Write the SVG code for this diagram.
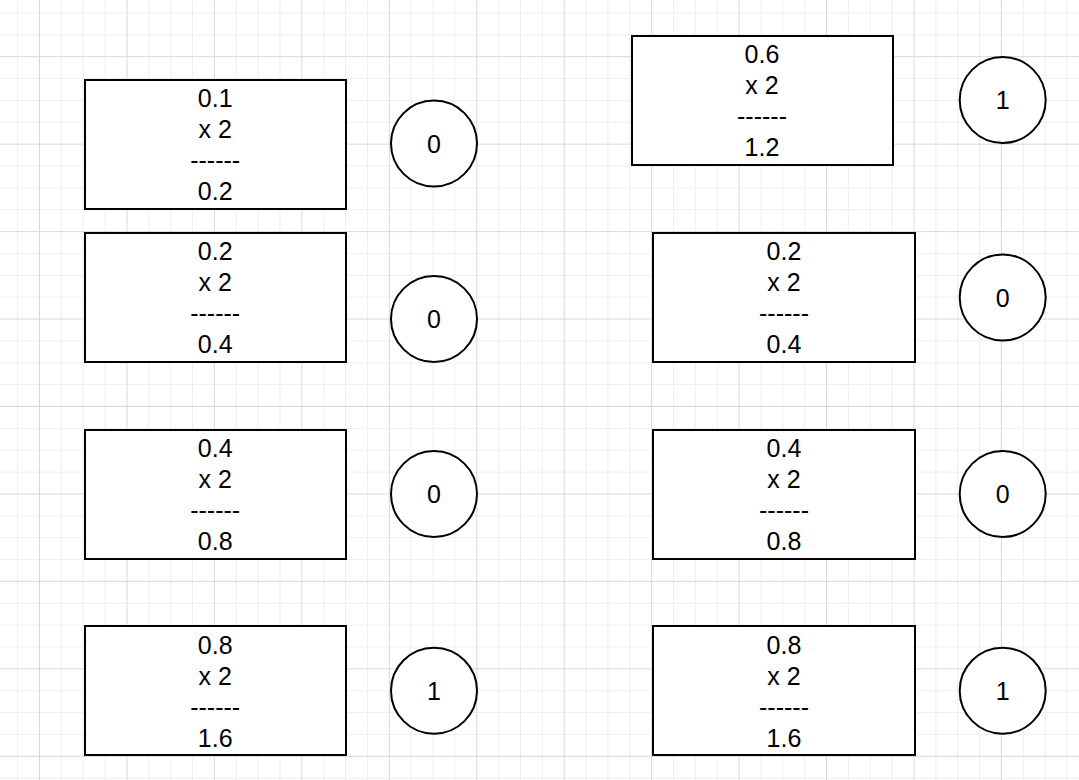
<svg xmlns="http://www.w3.org/2000/svg" width="1079" height="780" viewBox="0 0 1079 780">
  <style>
    .box { fill: #ffffff; stroke: #000000; stroke-width: 2; }
    .bit { fill: #ffffff; stroke: #000000; stroke-width: 2; }
    .t { font-family: "Liberation Sans", Arial, sans-serif; font-size: 25px; fill: #000000; text-anchor: middle; }
    .bt { font-family: "Liberation Sans", Arial, sans-serif; font-size: 25px; fill: #000000; text-anchor: middle; }
  </style>
  <defs>
    <pattern id="grid" patternUnits="userSpaceOnUse" x="39" y="56.2" width="87.45" height="87.45">
      <rect x="21.86" y="0" width="1" height="87.45" fill="#eeeeee"/>
      <rect x="43.72" y="0" width="1" height="87.45" fill="#eeeeee"/>
      <rect x="65.59" y="0" width="1" height="87.45" fill="#eeeeee"/>
      <rect x="0" y="21.86" width="87.45" height="1" fill="#eeeeee"/>
      <rect x="0" y="43.72" width="87.45" height="1" fill="#eeeeee"/>
      <rect x="0" y="65.59" width="87.45" height="1" fill="#eeeeee"/>
      <rect x="0" y="0" width="1" height="87.45" fill="#d8d8d8"/>
      <rect x="0" y="0" width="87.45" height="1" fill="#d8d8d8"/>
    </pattern>
  </defs>
  <rect x="0" y="0" width="1079" height="780" fill="#ffffff"/>
  <rect x="0" y="0" width="1079" height="780" fill="url(#grid)"/>

  <g id="connectors"></g>

  <g id="box-l1">
    <rect class="box" x="85" y="80" width="261" height="129"/>
    <text class="t" x="215.2" y="106.7">0.1</text>
    <text class="t" x="215.2" y="137.7">x 2</text>
    <text class="t" x="215.2" y="168.7">------</text>
    <text class="t" x="215.2" y="199.7">0.2</text>
  </g>
  <g id="bit-l1">
    <circle class="bit" cx="434" cy="143.5" r="43"/>
    <text class="bt" x="434" y="152.5">0</text>
  </g>

  <g id="box-l2">
    <rect class="box" x="85" y="233" width="261" height="129"/>
    <text class="t" x="215.2" y="260.2">0.2</text>
    <text class="t" x="215.2" y="291.2">x 2</text>
    <text class="t" x="215.2" y="322.2">------</text>
    <text class="t" x="215.2" y="353.2">0.4</text>
  </g>
  <g id="bit-l2">
    <circle class="bit" cx="434" cy="319" r="43"/>
    <text class="bt" x="434" y="328">0</text>
  </g>

  <g id="box-l3">
    <rect class="box" x="85" y="430" width="261" height="129"/>
    <text class="t" x="215.2" y="457.2">0.4</text>
    <text class="t" x="215.2" y="488.2">x 2</text>
    <text class="t" x="215.2" y="519.2">------</text>
    <text class="t" x="215.2" y="550.2">0.8</text>
  </g>
  <g id="bit-l3">
    <circle class="bit" cx="434" cy="494" r="43"/>
    <text class="bt" x="434" y="503">0</text>
  </g>

  <g id="box-l4">
    <rect class="box" x="85" y="626" width="261" height="129"/>
    <text class="t" x="215.2" y="653.5">0.8</text>
    <text class="t" x="215.2" y="684.5">x 2</text>
    <text class="t" x="215.2" y="715.5">------</text>
    <text class="t" x="215.2" y="746.5">1.6</text>
  </g>
  <g id="bit-l4">
    <circle class="bit" cx="434" cy="690.7" r="43"/>
    <text class="bt" x="434" y="699.7">1</text>
  </g>

  <g id="box-r1">
    <rect class="box" x="632" y="36" width="261" height="129"/>
    <text class="t" x="762" y="62.7">0.6</text>
    <text class="t" x="762" y="93.7">x 2</text>
    <text class="t" x="762" y="124.7">------</text>
    <text class="t" x="762" y="155.7">1.2</text>
  </g>
  <g id="bit-r1">
    <circle class="bit" cx="1002.7" cy="100" r="43"/>
    <text class="bt" x="1002.7" y="109">1</text>
  </g>

  <g id="box-r2">
    <rect class="box" x="653" y="233" width="262" height="129"/>
    <text class="t" x="784" y="260.2">0.2</text>
    <text class="t" x="784" y="291.2">x 2</text>
    <text class="t" x="784" y="322.2">------</text>
    <text class="t" x="784" y="353.2">0.4</text>
  </g>
  <g id="bit-r2">
    <circle class="bit" cx="1002.7" cy="297.5" r="43"/>
    <text class="bt" x="1002.7" y="306.5">0</text>
  </g>

  <g id="box-r3">
    <rect class="box" x="653" y="430" width="262" height="129"/>
    <text class="t" x="784" y="457.2">0.4</text>
    <text class="t" x="784" y="488.2">x 2</text>
    <text class="t" x="784" y="519.2">------</text>
    <text class="t" x="784" y="550.2">0.8</text>
  </g>
  <g id="bit-r3">
    <circle class="bit" cx="1002.7" cy="494" r="43"/>
    <text class="bt" x="1002.7" y="503">0</text>
  </g>

  <g id="box-r4">
    <rect class="box" x="653" y="626" width="262" height="129"/>
    <text class="t" x="784" y="653.5">0.8</text>
    <text class="t" x="784" y="684.5">x 2</text>
    <text class="t" x="784" y="715.5">------</text>
    <text class="t" x="784" y="746.5">1.6</text>
  </g>
  <g id="bit-r4">
    <circle class="bit" cx="1002.7" cy="690.7" r="43"/>
    <text class="bt" x="1002.7" y="699.7">1</text>
  </g>
</svg>
